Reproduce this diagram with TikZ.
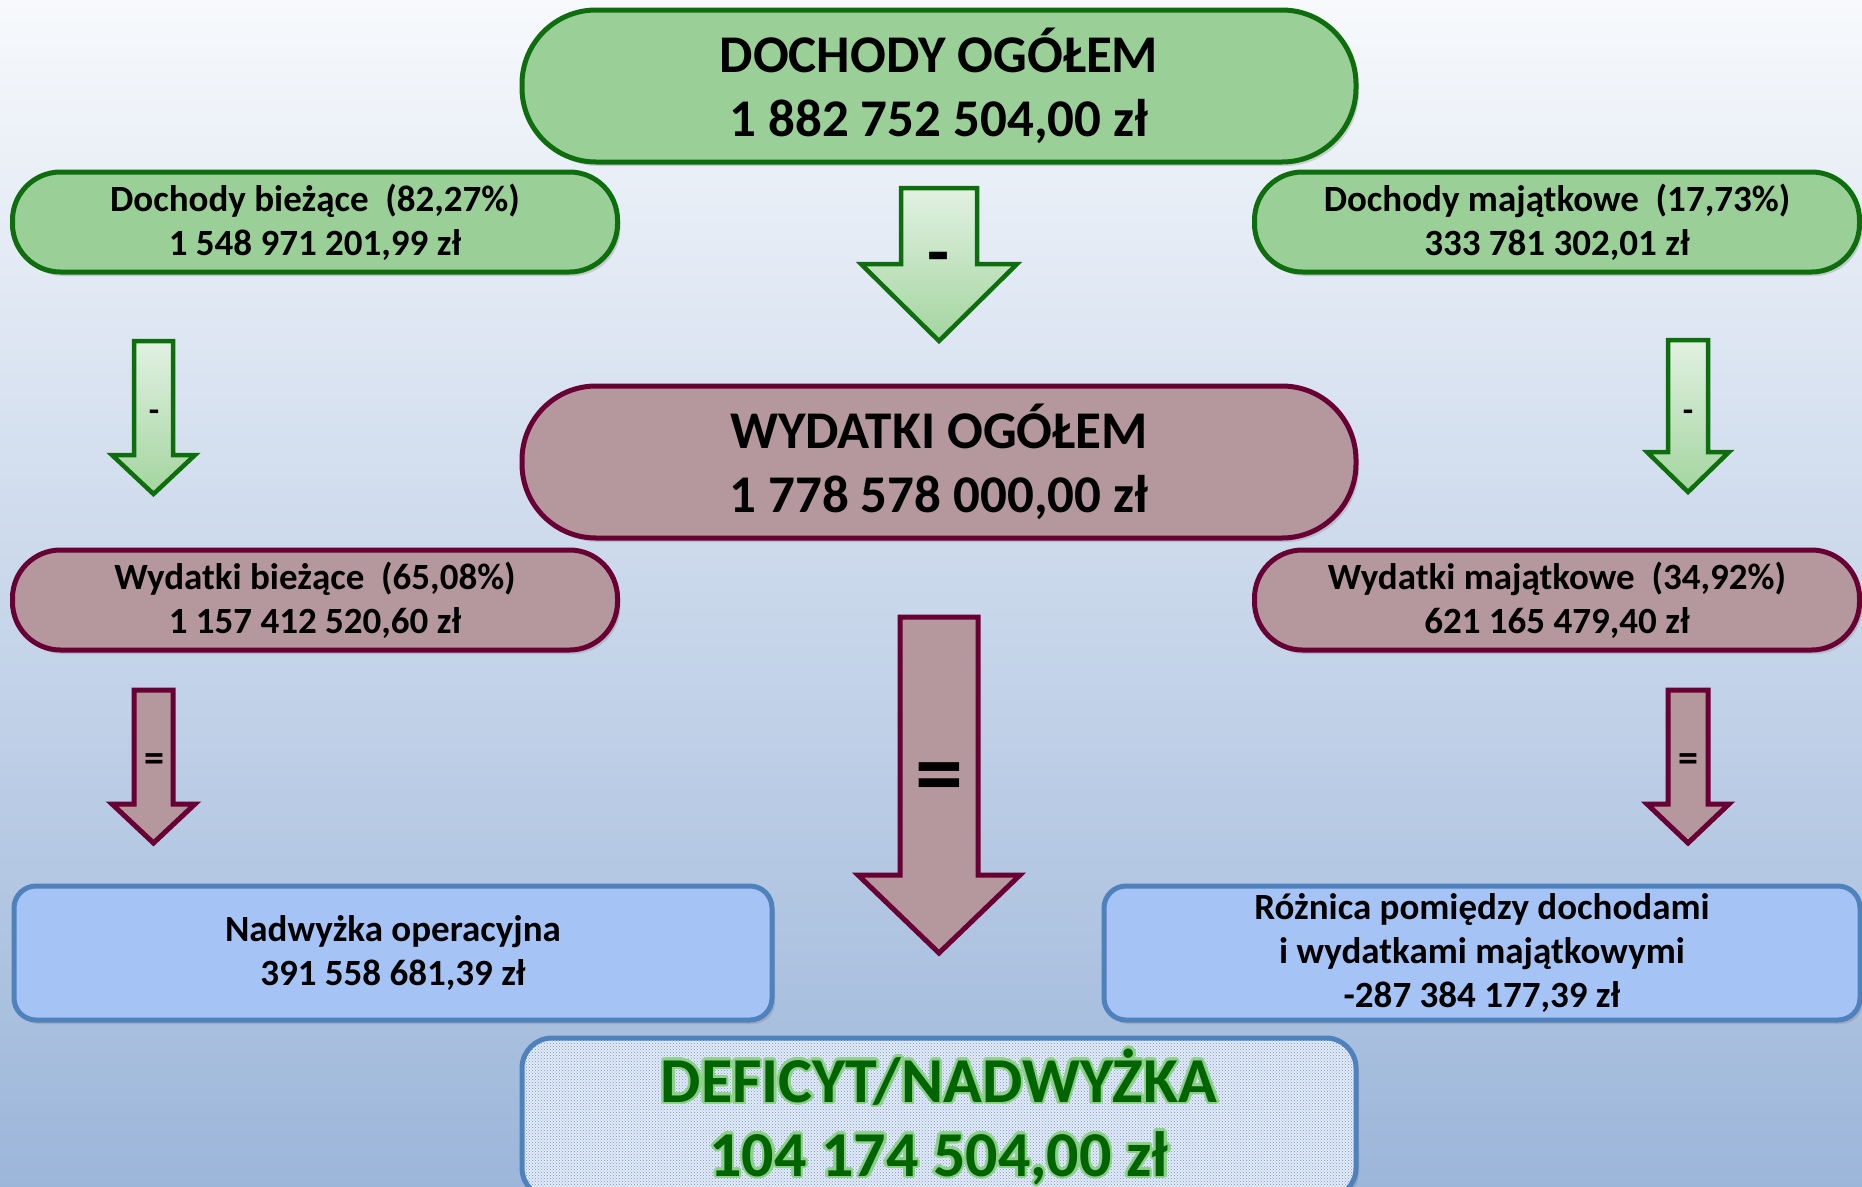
\documentclass[tikz,border=0pt]{standalone}
\usepackage{fontspec}
\setmainfont{Carlito}
\usepackage[copies]{contour}
\usetikzlibrary{shadows,patterns}
\definecolor{gfill}{HTML}{9BCF98}
\definecolor{gline}{HTML}{0E6E0E}
\definecolor{mfill}{HTML}{B5979E}
\definecolor{mline}{HTML}{680034}
\definecolor{bfill}{HTML}{A6C3F5}
\definecolor{bline}{HTML}{4F81BD}
\definecolor{bgtop}{HTML}{F7F9FC}
\definecolor{bgmid}{HTML}{CDDAEC}
\definecolor{bgbot}{HTML}{9CB6DA}
\definecolor{dgreen}{HTML}{006400}
\definecolor{glow}{HTML}{8ED08A}
\definecolor{garrtop}{HTML}{E2F1E2}
\definecolor{garrbot}{HTML}{A3D59F}
\definecolor{dotfill}{HTML}{E4ECF8}
\definecolor{dotcol}{HTML}{6F92CC}
\tikzset{
  box/.style={line width=5pt, align=center, inner sep=0pt,
    drop shadow={opacity=0.3, shadow xshift=3pt, shadow yshift=-4pt}},
  bigpill/.style={box, minimum width=834pt, minimum height=152pt, rounded corners=74pt,
    font=\bfseries\fontsize{53}{64}\selectfont},
  smallpill/.style={box, minimum width=605pt, minimum height=100pt, rounded corners=48pt,
    font=\bfseries\fontsize{37}{44}\selectfont},
  greenbox/.style={fill=gfill, draw=gline},
  maroonbox/.style={fill=mfill, draw=mline},
  bluebox/.style={box, fill=bfill, draw=bline, rounded corners=22pt, minimum height=134pt,
    font=\bfseries\fontsize{37}{44}\selectfont},
  garrow/.style={draw=gline, line width=4.5pt, top color=garrtop, bottom color=garrbot},
  marrow/.style={draw=mline, line width=5pt, fill=mfill},
  sign/.style={font=\bfseries, inner sep=0pt},
}
\begin{document}
\begin{tikzpicture}[x=1pt,y=-1pt]
\useasboundingbox (0,0) rectangle (1862,1186);
\shade[top color=bgtop, middle color=bgmid, bottom color=bgbot] (0,0) rectangle (1862,1186);

% main boxes
\node[bigpill, greenbox] (doch) at (939,86) {DOCHODY OGÓŁEM\\1 882 752 504,00 zł};
\node[smallpill, greenbox] (dochb) at (315,222) {Dochody bieżące\ \ (82,27\%)\\1 548 971 201,99 zł};
\node[smallpill, greenbox] (dochm) at (1557,222) {Dochody majątkowe\ \ (17,73\%)\\333 781 302,01 zł};

\node[bigpill, maroonbox] (wyd) at (939,462) {WYDATKI OGÓŁEM\\1 778 578 000,00 zł};
\node[smallpill, maroonbox] (wydb) at (315,600) {Wydatki bieżące\ \ (65,08\%)\\1 157 412 520,60 zł};
\node[smallpill, maroonbox] (wydm) at (1557,600) {Wydatki majątkowe\ \ (34,92\%)\\621 165 479,40 zł};

\node[bluebox, minimum width=758pt] (nadop) at (393,953) {Nadwyżka operacyjna\\391 558 681,39 zł};
\node[bluebox, minimum width=756pt] (roz) at (1482,953) {Różnica pomiędzy dochodami\\i wydatkami majątkowymi\\-287 384 177,39 zł};

% block arrows (green, minus)
\draw[garrow] (901,188) -- (977,188) -- (977,264) -- (1017,264) -- (939,341) -- (861,264) -- (901,264) -- cycle;
\draw[garrow] (134,341) -- (173,341) -- (173,455) -- (195,455) -- (153.5,494) -- (112,455) -- (134,455) -- cycle;
\draw[garrow] (1668,340) -- (1708,340) -- (1708,452) -- (1729,452) -- (1688,492) -- (1647,452) -- (1668,452) -- cycle;
% block arrows (maroon, equals)
\draw[marrow] (900,617) -- (978,617) -- (978,875) -- (1020,875) -- (939,953) -- (858,875) -- (900,875) -- cycle;
\draw[marrow] (134,690) -- (173,690) -- (173,804) -- (195,804) -- (153.5,843) -- (112,804) -- (134,804) -- cycle;
\draw[marrow] (1668,690) -- (1708,690) -- (1708,804) -- (1729,804) -- (1688,843) -- (1647,804) -- (1668,804) -- cycle;

% signs
\node[sign, font=\bfseries\fontsize{72}{72}\selectfont] (s1) at (939,264) {-};
\node[sign, font=\bfseries\fontsize{34}{34}\selectfont] (s2) at (154,416) {-};
\node[sign, font=\bfseries\fontsize{34}{34}\selectfont] (s3) at (1688,416) {-};
\node[sign, font=\bfseries\fontsize{96}{96}\selectfont] (s4) at (939,784) {=};
\node[sign, font=\bfseries\fontsize{40}{40}\selectfont] (s5) at (154,763) {=};
\node[sign, font=\bfseries\fontsize{40}{40}\selectfont] (s6) at (1688,763) {=};

% result box
\contourlength{2.5pt}
\node[box, draw=bline, rounded corners=30pt, minimum width=834pt, minimum height=160pt,
  preaction={fill=dotfill}, pattern=crosshatch dots, pattern color=dotcol,
  text=dgreen, font=\bfseries\fontsize{64}{74}\selectfont] (def) at (939,1118)
  {\contour{glow}{DEFICYT/NADWYŻKA}\\\contour{glow}{104 174 504,00 zł}};
\end{tikzpicture}
\end{document}
